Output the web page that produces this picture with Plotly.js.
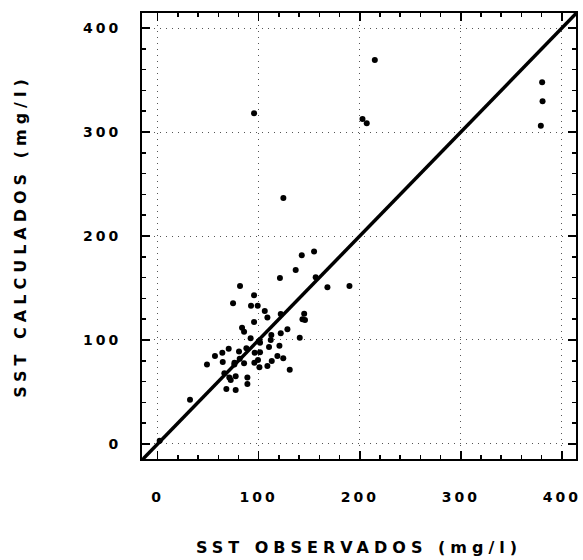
<!DOCTYPE html>
<html>
<head>
<meta charset="utf-8">
<script src="https://cdn.plot.ly/plotly-3.0.1.min.js"></script>
<style>
html,body{margin:0;padding:0;background:#fff;}
#chart{width:583px;height:560px;}
.xtick text, .ytick text { letter-spacing: 3px; }
.xtitle, .ytitle { letter-spacing: 5px; }
</style>
</head>
<body>
<div id="chart"></div>
<script>
// Observed SST (mg/l)
var sstObservados = [2, 32, 48.8, 56.7, 64, 64.4, 68, 70.3, 70.9, 72.3, 75.9, 77.2, 77.2, 74.6, 80.5, 81.2, 81.5,
  83.5, 85.5, 85.5, 87.8, 88.8, 88.8, 92, 92.4, 95.4, 95.4, 95.4, 96, 95.7, 99, 99.3, 100.7, 100.7, 101.3, 101.3,
  106, 108.6, 108.6, 110.2, 111.9, 112.5, 112.9, 118.5, 120.5, 121, 121.8, 121.8, 124.3, 124.4, 128.4, 130.7,
  136.6, 140.6, 142.6, 143.3, 145, 145.8, 154.8, 156.4, 168, 189.8, 202.7, 206.9, 214.9, 379.2, 380.9, 380.5,
  66, 76];
// Calculated SST (mg/l)
var sstCalculados = [3, 42.6, 76.3, 84.6, 87.8, 78.8, 52.9, 91.6, 63.8, 61.5, 76.3, 51.9, 65.1, 135.3, 88.8, 82, 152,
  111.8, 108, 77.6, 92, 63.8, 57.7, 101.6, 133, 143, 117.3, 318, 87.8, 78.2, 133, 80.8, 73.7, 99.3, 88.2, 97.4,
  127.9, 121.5, 75, 93.3, 100, 104.8, 79.8, 84.6, 94.5, 159.6, 106.4, 125, 82.4, 236.5, 110.3, 71.4,
  167.3, 102.2, 181.4, 120, 125.3, 119.2, 185, 160.3, 150.7, 152, 312.5, 308.4, 369.2, 306, 329.5, 348,
  68, 78];
// 1:1 reference line
var lineaUno = [-20, 420];
var tickVals = [0, 100, 200, 300, 400];
var tickText = ['0', '100', '200', '300', '400'];

var font = {family: 'DejaVu Sans', size: 14, color: '#000', weight: 'bold'};
var titleFont = {family: 'DejaVu Sans', size: 16, color: '#000', weight: 'bold'};

var traces = [
  {x: lineaUno, y: lineaUno, mode: 'lines', line: {color: '#000', width: 3.5}, hoverinfo: 'skip', showlegend: false},
  {x: sstObservados, y: sstCalculados, mode: 'markers', type: 'scatter',
   marker: {color: '#000', size: 6}, showlegend: false}
];

function axis(range, standoff, titleText, titleStandoff) {
  return {
    range: range, tickvals: tickVals, ticktext: tickText,
    ticks: 'inside', ticklen: 8, tickwidth: 1.5, tickcolor: '#000',
    minor: {dtick: 20, tick0: 0, ticks: 'inside', ticklen: 4, tickwidth: 1.5, tickcolor: '#000', showgrid: false},
    showline: true, linecolor: '#000', linewidth: 2, mirror: 'allticks',
    showgrid: true, gridcolor: '#555', gridwidth: 1, griddash: '1px,5px',
    zeroline: false, tickfont: font, ticklabelstandoff: standoff,
    title: {text: titleText, font: titleFont, standoff: titleStandoff}
  };
}

var layout = {
  width: 583, height: 560,
  margin: {l: 142, r: 7, t: 13, b: 101},
  paper_bgcolor: '#fff', plot_bgcolor: '#fff',
  xaxis: axis([-15.5, 414], 24, 'SST OBSERVADOS (mg/l)', 38),
  yaxis: axis([-14.5, 414.5], 16, 'SST CALCULADOS (mg/l)', 52),
  showlegend: false
};

Plotly.newPlot('chart', traces, layout, {staticPlot: true, displayModeBar: false});
</script>
</body>
</html>
